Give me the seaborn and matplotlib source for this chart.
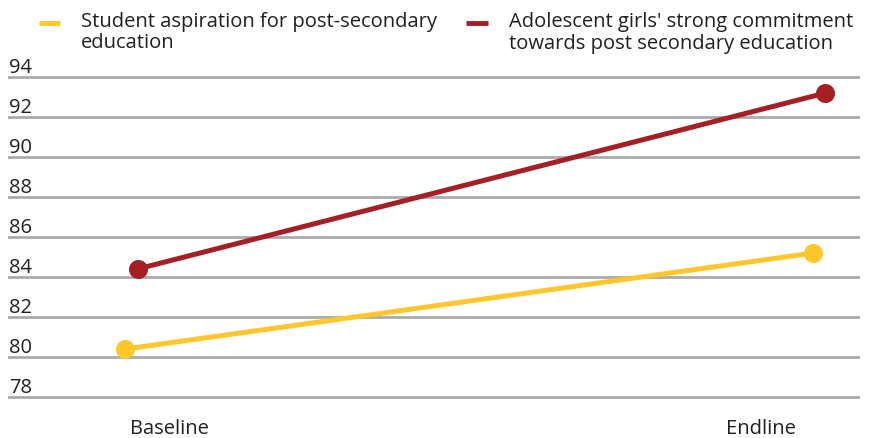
import matplotlib
matplotlib.use("Agg")
import matplotlib.pyplot as plt
from matplotlib.lines import Line2D
from matplotlib.legend_handler import HandlerLine2D
import seaborn as sns
import pandas as pd

periods = ["Baseline", "Endline"]
series_names = [
    "Student aspiration for post-secondary\neducation",
    "Adolescent girls' strong commitment\ntowards post secondary education",
]
student_aspiration = [80.4, 85.2]
girls_commitment = [84.4, 93.2]
y_ticks = [78, 80, 82, 84, 86, 88, 90, 92, 94]
colors = ["#FFC72C", "#A51F24"]

df = pd.DataFrame({
    "period": periods * 2,
    "value": student_aspiration + girls_commitment,
    "series": [series_names[0]] * 2 + [series_names[1]] * 2,
})

sns.set_theme(style="white")
plt.rcParams["font.family"] = ["Open Sans", "DejaVu Sans"]
text_color = "#231F20"
fs = 14.5

fig = plt.figure(figsize=(8.69, 4.39), dpi=100)
ax = fig.add_axes([8 / 869, 1 - 400 / 439, 852 / 869, 324 / 439])

sns.pointplot(
    data=df, x="period", y="value", hue="series", order=periods,
    hue_order=series_names, palette=colors, dodge=0.0175, errorbar=None,
    markers="o", markersize=11, linewidth=3.6, ax=ax,
)

ax.set_xlim(-0.1795, 1.0589)
ax.set_ylim(77.9, 94.1)
ax.set_yticks(y_ticks)
ax.yaxis.grid(True, color="#ABABAB", linewidth=2)
ax.set_axisbelow(True)
for s in ax.spines.values():
    s.set_visible(False)
ax.set_xlabel("")
ax.set_ylabel("")

ax.set_xticks([0.0545, 0.915])
ax.set_xticklabels(periods)
ax.tick_params(axis="x", length=0, pad=14, labelsize=fs, labelcolor=text_color)
ax.tick_params(axis="y", length=0, pad=-1, labelsize=fs, labelcolor=text_color)
for lbl in ax.get_yticklabels():
    lbl.set_horizontalalignment("left")
    lbl.set_verticalalignment("bottom")

if ax.legend_ is not None:
    ax.legend_.remove()


class TopLineHandler(HandlerLine2D):
    """Place the legend swatch level with the first text line."""
    def __init__(self, shift, **kw):
        super().__init__(**kw)
        self.shift = shift

    def create_artists(self, legend, orig_handle, xdescent, ydescent,
                       width, height, fontsize, trans):
        arts = super().create_artists(legend, orig_handle, xdescent, ydescent,
                                      width, height, fontsize, trans)
        for a in arts:
            a.set_ydata([y + self.shift for y in a.get_ydata()])
        return arts


hs = [Line2D([], [], color=c, linewidth=3.5, solid_capstyle="butt") for c in colors]
fig.legend(
    hs, series_names, loc="upper left", bbox_to_anchor=(39 / 869, 1 - 12 / 439),
    ncol=2, frameon=False, fontsize=fs, handlelength=1.05, handletextpad=1.05,
    columnspacing=1.45, labelspacing=0.2, borderaxespad=0, borderpad=0,
    labelcolor=text_color,
    handler_map={Line2D: TopLineHandler(shift=6.5)},
)
for t in fig.legends[0].get_texts():
    t.set_linespacing(1.1)

fig.savefig("out.png", dpi=100)
